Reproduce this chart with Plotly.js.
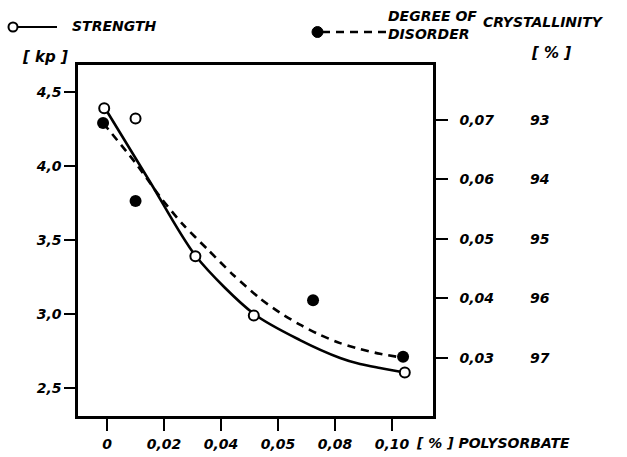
<!DOCTYPE html>
<html><head><meta charset="utf-8">
<script src="https://cdn.plot.ly/plotly-3.0.1.min.js"></script>
<style>html,body{margin:0;padding:0;background:#fff;}#chart{width:627px;height:457px;}</style>
</head><body><div id="chart"></div>
<script>
// ---- data ----
const strengthX = [-0.001, 0.010, 0.031, 0.0515, 0.1045];
const strengthKp = [4.39, 4.32, 3.39, 2.99, 2.605];
const disorderX = [-0.0014, 0.010, 0.0723, 0.1039];
const disorderVal = [0.0695, 0.0564, 0.0397, 0.0302];
const strengthCurveX = [-0.0007, 0.0151, 0.0312, 0.0516, 0.0677, 0.0818, 0.0888, 0.0958, 0.1045];
const strengthCurveKp = [4.39, 3.892, 3.39, 3.00, 2.824, 2.703, 2.662, 2.635, 2.605];
const disorderCurveX = [-0.0014, 0.0098, 0.0186, 0.0267, 0.0354, 0.0442, 0.0537, 0.0607, 0.0677, 0.0747, 0.0818, 0.0888, 0.0958, 0.1018];
const disorderCurveVal = [0.0695, 0.0629, 0.0571, 0.0524, 0.0482, 0.0440, 0.0400, 0.0376, 0.0356, 0.0339, 0.0325, 0.0315, 0.0307, 0.0302];
const xTickVals = [0, 0.02, 0.04, 0.06, 0.08, 0.10];
const xTickText = ['0', '0,02', '0,04', '0,05', '0,08', '0,10'];
const kpTickVals = [2.5, 3.0, 3.5, 4.0, 4.5];
const kpTickText = ['2,5', '3,0', '3,5', '4,0', '4,5'];
const disTickVals = [0.03, 0.04, 0.05, 0.06, 0.07];
const disTickText = ['0,03', '0,04', '0,05', '0,06', '0,07'];
const crystTickVals = [93, 94, 95, 96, 97];
const crystTickText = ['93', '94', '95', '96', '97'];

// ---- layout geometry ----
const L = 78, T = 65, R = 20, B = 41, WW = 627, HH = 457;
const W = WW - L - R, H = HH - T - B;
const px = v => (v - L) / W;
const py = v => (T + H - v) / H;
const FONT = {family: 'DejaVu Sans, Liberation Sans, sans-serif', size: 14, color: '#000', weight: 'bold', style: 'italic'};
const f = s => Object.assign({}, FONT, {size: s});

const traces = [
  {x: strengthCurveX, y: strengthCurveKp, mode: 'lines', line: {color: '#000', width: 2.6, shape: 'spline', smoothing: 0.8}, hoverinfo: 'skip', showlegend: false},
  {x: disorderCurveX, y: disorderCurveVal, yaxis: 'y2', mode: 'lines', line: {color: '#000', width: 2.6, dash: '8px,6px', shape: 'spline', smoothing: 0.7}, hoverinfo: 'skip', showlegend: false},
  {x: strengthX, y: strengthKp, mode: 'markers', marker: {symbol: 'circle', size: 10, color: '#fff', line: {color: '#000', width: 2}}, showlegend: false},
  {x: disorderX, y: disorderVal, yaxis: 'y2', mode: 'markers', marker: {symbol: 'circle', size: 12, color: '#000', line: {color: '#000', width: 0}}, showlegend: false},
  {x: [], y: [], yaxis: 'y3', mode: 'markers', showlegend: false, hoverinfo: 'skip'}
];

const layout = {
  width: WW, height: HH,
  margin: {l: L, r: R, t: T, b: B, pad: 0},
  paper_bgcolor: '#fff', plot_bgcolor: '#fff',
  font: FONT,
  showlegend: false,
  xaxis: {domain: [0, px(433)], range: [-0.0102, 0.1144], tickvals: xTickVals, ticktext: xTickText,
    showline: true, linecolor: '#000', linewidth: 2.6, mirror: true, ticks: 'outside', ticklen: 12, tickwidth: 2, tickcolor: '#000',
    showgrid: false, zeroline: false, tickfont: f(14), ticklabelstandoff: 2},
  yaxis: {range: [2.311, 4.682], tickvals: kpTickVals, ticktext: kpTickText,
    showline: true, linecolor: '#000', linewidth: 2.6, mirror: true, ticks: 'outside', ticklen: 11, tickwidth: 2, tickcolor: '#000',
    showgrid: false, zeroline: false, tickfont: f(14)},
  yaxis2: {overlaying: 'y', side: 'right', anchor: 'x', range: [0.02025, 0.07924], tickvals: disTickVals, ticktext: disTickText,
    showline: true, linecolor: '#000', linewidth: 2.6, ticks: 'outside', ticklen: 12, tickwidth: 2, tickcolor: '#000',
    showgrid: false, zeroline: false, tickfont: f(14), ticklabelstandoff: 9},
  yaxis3: {overlaying: 'y', side: 'right', anchor: 'free', position: px(529), range: [97.975, 92.076],
    tickvals: crystTickVals, ticktext: crystTickText, showline: false, ticks: '', showgrid: false, zeroline: false, tickfont: f(14)},
  shapes: [
    {type: 'line', xref: 'paper', yref: 'paper', x0: px(17), x1: px(57), y0: py(27), y1: py(27), line: {color: '#000', width: 2}},
    {type: 'circle', xref: 'paper', yref: 'paper', x0: px(8.5), x1: px(17.5), y0: py(31.5), y1: py(22.5), line: {color: '#000', width: 2}, fillcolor: '#fff'},
    {type: 'line', xref: 'paper', yref: 'paper', x0: px(322), x1: px(386), y0: py(32), y1: py(32), line: {color: '#000', width: 2.6, dash: '8px,6px'}},
    {type: 'circle', xref: 'paper', yref: 'paper', x0: px(312), x1: px(323), y0: py(37.5), y1: py(26.5), line: {color: '#000', width: 1}, fillcolor: '#000'}
  ],
  annotations: [
    {xref: 'paper', yref: 'paper', x: px(70), y: py(26), xanchor: 'left', yanchor: 'middle', text: 'STRENGTH', showarrow: false, font: f(14)},
    {xref: 'paper', yref: 'paper', x: px(45), y: py(57), xanchor: 'center', yanchor: 'middle', text: '[ kp ]', showarrow: false, font: f(15)},
    {xref: 'paper', yref: 'paper', x: px(386), y: py(25), xanchor: 'left', yanchor: 'middle', text: 'DEGREE OF<br>DISORDER', align: 'left', showarrow: false, font: f(14)},
    {xref: 'paper', yref: 'paper', x: px(481), y: py(22), xanchor: 'left', yanchor: 'middle', text: 'CRYSTALLINITY', showarrow: false, font: f(14)},
    {xref: 'paper', yref: 'paper', x: px(551), y: py(53), xanchor: 'center', yanchor: 'middle', text: '[ % ]', showarrow: false, font: f(15)},
    {xref: 'paper', yref: 'paper', x: px(414), y: py(443), xanchor: 'left', yanchor: 'middle', text: '[ % ] POLYSORBATE', showarrow: false, font: f(14)}
  ]
};

Plotly.newPlot('chart', traces, layout, {staticPlot: true, displayModeBar: false});
</script></body></html>
